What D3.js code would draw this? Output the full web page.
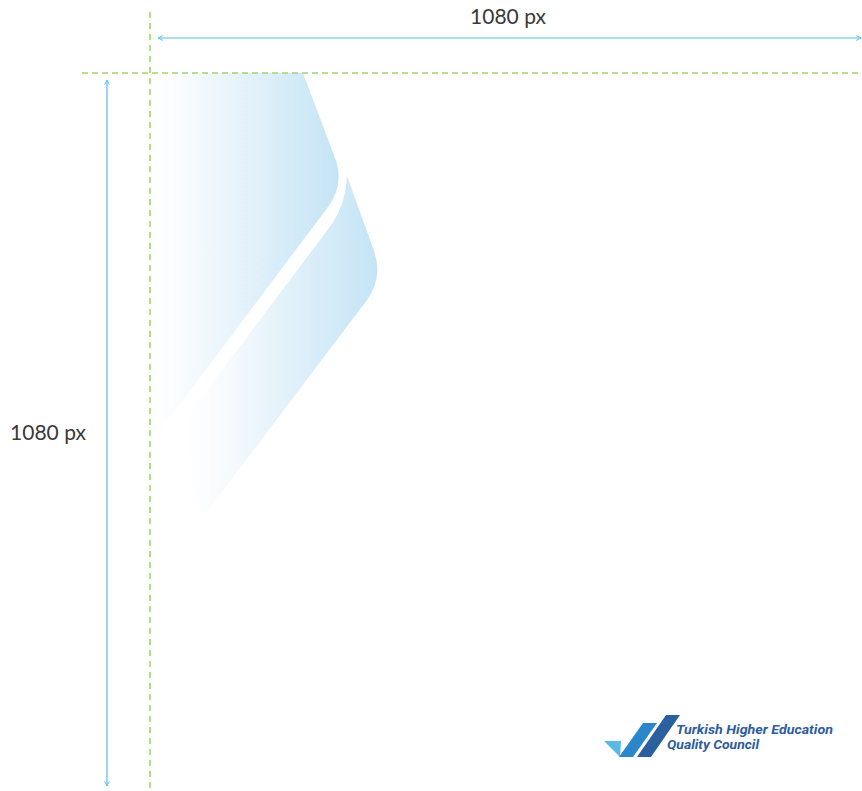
<!DOCTYPE html>
<html>
<head>
<meta charset="utf-8">
<script src="https://cdn.jsdelivr.net/npm/d3@7"></script>
<style>
  html, body { margin: 0; padding: 0; background: #ffffff; }
  svg { display: block; }
</style>
</head>
<body>
<div id="chart"></div>
<script>
// ---- data ----
const canvasSize = [1080, 1080];               // design canvas width, height (px)
const dimensionLabels = ["1080 px", "1080 px"]; // width label, height label
const logoLines = ["Turkish Higher Education", "Quality Council"];

const W = 862, H = 791;
const svg = d3.select("#chart").append("svg")
  .attr("width", W).attr("height", H);

// scales: design px -> screen px
const sx = d3.scaleLinear().domain([0, canvasSize[0]]).range([150, 862]);
const sy = d3.scaleLinear().domain([0, canvasSize[1]]).range([73, 786]);

const defs = svg.append("defs");
function grad(id) {
  const g = defs.append("linearGradient").attr("id", id)
    .attr("x1", 0).attr("y1", 0).attr("x2", 1).attr("y2", 0);
  g.append("stop").attr("offset", 0).attr("stop-color", "#ffffff");
  g.append("stop").attr("offset", 0.15).attr("stop-color", "#fafcfe");
  g.append("stop").attr("offset", 1).attr("stop-color", "#c4e4f5");
}
grad("g1"); grad("g2");

// ---- decorative shapes ----
const p1 = d3.path();
p1.moveTo(150, 73);
p1.lineTo(303, 73);
p1.lineTo(335, 158);
p1.quadraticCurveTo(345, 184, 328, 207);
p1.lineTo(150, 444);
p1.closePath();
svg.append("path").attr("d", p1.toString()).attr("fill", "url(#g1)");

const p2 = d3.path();
p2.moveTo(347, 176);
p2.lineTo(373, 248);
p2.quadraticCurveTo(384, 277, 367, 300);
p2.lineTo(203, 517);
p2.quadraticCurveTo(188, 490, 186, 418);
p2.lineTo(329, 228);
p2.quadraticCurveTo(346, 205, 347, 176);
p2.closePath();
svg.append("path").attr("d", p2.toString()).attr("fill", "url(#g2)");

// ---- guide dashed lines ----
const green = "#a3d46f";
svg.append("line")
  .attr("x1", 150).attr("x2", 150).attr("y1", 12).attr("y2", H)
  .attr("stroke", green).attr("stroke-width", 1.6).attr("stroke-dasharray", "6,5");
svg.append("line")
  .attr("x1", 82).attr("x2", W).attr("y1", sy(0)).attr("y2", sy(0))
  .attr("stroke", green).attr("stroke-width", 1.4).attr("stroke-dasharray", "6,4");

// ---- dimension arrows ----
const blue = "#5bbce8";
const mk = defs.append("marker").attr("id", "arr")
  .attr("viewBox", "0 0 10 10").attr("refX", 9).attr("refY", 5)
  .attr("markerWidth", 6).attr("markerHeight", 6)
  .attr("markerUnits", "userSpaceOnUse")
  .attr("orient", "auto-start-reverse");
mk.append("path").attr("d", "M1,1 L9,5 L1,9").attr("fill", "none")
  .attr("stroke", blue).attr("stroke-width", 1.6);

svg.append("line")
  .attr("x1", 158).attr("x2", sx(canvasSize[0]) - 1).attr("y1", 38).attr("y2", 38)
  .attr("stroke", blue).attr("stroke-width", 1.2)
  .attr("marker-start", "url(#arr)").attr("marker-end", "url(#arr)");
svg.append("line")
  .attr("x1", 107).attr("x2", 107).attr("y1", 80).attr("y2", sy(canvasSize[1]))
  .attr("stroke", blue).attr("stroke-width", 1.2)
  .attr("marker-start", "url(#arr)").attr("marker-end", "url(#arr)");

const labelStyle = sel => sel
  .attr("font-family", "Lato, 'Open Sans', sans-serif")
  .attr("font-weight", 400).attr("font-size", 21)
  .attr("fill", "#3a3a3a").attr("text-anchor", "middle");

svg.append("text").call(labelStyle)
  .attr("x", 508).attr("y", 24).text(dimensionLabels[0]);
svg.append("text").call(labelStyle)
  .attr("x", 48).attr("y", 440).text(dimensionLabels[1]);

// ---- logo ----
const logo = svg.append("g");
logo.append("path").attr("fill", "#5ab9e6")
  .attr("d", "M604,741 L621,741 L620,757 Z");
logo.append("path").attr("fill", "#2b86cc")
  .attr("d", "M619,757 L643,723 L657,723 L633,757 Z");
logo.append("path").attr("fill", "#2c5f9e")
  .attr("d", "M637,757 L666,715 L680,715 L651,757 Z");

logo.selectAll("text.l").data(logoLines).join("text")
  .attr("class", "l")
  .attr("x", (d, i) => i === 0 ? 676 : 667)
  .attr("y", (d, i) => i === 0 ? 734 : 749)
  .attr("font-family", "Roboto, 'Open Sans', sans-serif")
  .attr("font-weight", 700).attr("font-style", "italic")
  .attr("font-size", 13).attr("fill", "#2d5d9f")
  .attr("textLength", (d, i) => i === 0 ? 157 : 92)
  .attr("lengthAdjust", "spacingAndGlyphs")
  .text(d => d);
</script>
</body>
</html>
